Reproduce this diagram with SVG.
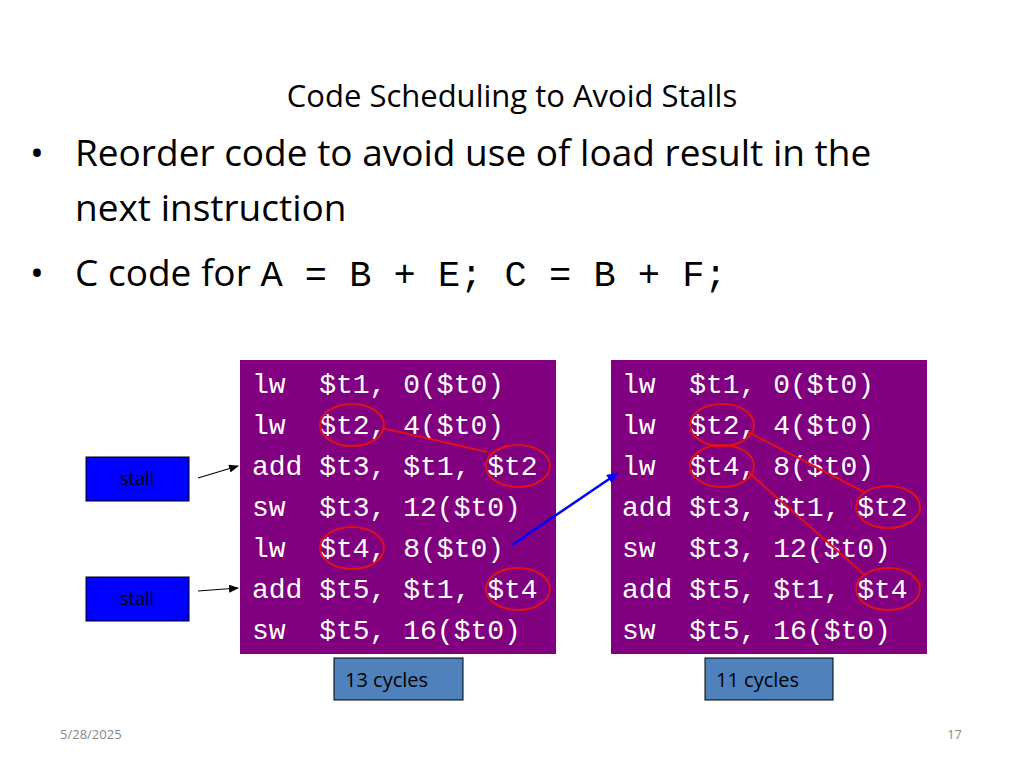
<svg xmlns="http://www.w3.org/2000/svg" width="1024" height="768" viewBox="0 0 1024 768">
<defs>
<style>
.t{font-family:"Open Sans","Liberation Sans",sans-serif;fill:#000}
.code{font-family:"Liberation Mono","DejaVu Sans Mono",monospace;font-size:28px;fill:#fff}
.box{fill:#800080}
.ov{fill:none;stroke:#e0101a;stroke-width:2}
.stall{fill:#0000ff;stroke:#000;stroke-width:1}
.cyc{fill:#4f81bd;stroke:#000;stroke-width:1}
</style>
<marker id="ah" markerWidth="10" markerHeight="8" refX="9" refY="4" orient="auto" markerUnits="userSpaceOnUse"><path d="M0,0 L10,4 L0,8 Z" fill="#000"/></marker>
<marker id="ahb" markerWidth="12" markerHeight="10" refX="11" refY="5" orient="auto" markerUnits="userSpaceOnUse"><path d="M0,0 L12,5 L0,10 Z" fill="#0000ff"/></marker>
</defs>
<rect width="1024" height="768" fill="#fff"/>
<text class="t" x="512" y="107" font-size="31" text-anchor="middle">Code Scheduling to Avoid Stalls</text>
<text class="t" x="30" y="166" font-size="37">•</text>
<text class="t" x="75" y="166" font-size="37">Reorder code to avoid use of load result in the</text>
<text class="t" x="75" y="221" font-size="37">next instruction</text>
<text class="t" x="30" y="286" font-size="37">•</text>
<text class="t" x="75" y="286" font-size="37">C code for <tspan font-family="Liberation Mono,monospace" xml:space="preserve">A = B + E; C = B + F;</tspan></text>

<g id="left">
<rect class="box" x="240" y="360" width="316" height="294"/>
<text class="code" xml:space="preserve"><tspan x="252" y="393">lw  $t1, 0($t0)</tspan><tspan x="252" y="434">lw  $t2, 4($t0)</tspan><tspan x="252" y="475">add $t3, $t1, $t2</tspan><tspan x="252" y="516">sw  $t3, 12($t0)</tspan><tspan x="252" y="557">lw  $t4, 8($t0)</tspan><tspan x="252" y="598">add $t5, $t1, $t4</tspan><tspan x="252" y="639">sw  $t5, 16($t0)</tspan></text>
</g>
<g id="right">
<rect class="box" x="611" y="360" width="316" height="294"/>
<text class="code" xml:space="preserve"><tspan x="622" y="393">lw  $t1, 0($t0)</tspan><tspan x="622" y="434">lw  $t2, 4($t0)</tspan><tspan x="622" y="475">lw  $t4, 8($t0)</tspan><tspan x="622" y="516">add $t3, $t1, $t2</tspan><tspan x="622" y="557">sw  $t3, 12($t0)</tspan><tspan x="622" y="598">add $t5, $t1, $t4</tspan><tspan x="622" y="639">sw  $t5, 16($t0)</tspan></text>
</g>
<g id="stall1"><rect class="stall" x="86" y="457" width="103" height="44"/><text class="t" x="137" y="485" font-size="18" text-anchor="middle">stall</text></g>
<g id="stall2"><rect class="stall" x="86" y="577" width="103" height="44"/><text class="t" x="137" y="605" font-size="18" text-anchor="middle">stall</text></g>
<g id="c13"><rect class="cyc" x="334" y="658" width="129" height="42"/><text class="t" x="345" y="687" font-size="20">13 cycles</text></g>
<g id="c11"><rect class="cyc" x="705" y="658" width="128" height="42"/><text class="t" x="716" y="687" font-size="20">11 cycles</text></g>
<g id="marks">
<ellipse class="ov" cx="352" cy="425" rx="32" ry="21"/>
<ellipse class="ov" cx="518" cy="466" rx="32" ry="21"/>
<ellipse class="ov" cx="352" cy="548" rx="32" ry="21"/>
<ellipse class="ov" cx="518" cy="589" rx="32" ry="21"/>
<ellipse class="ov" cx="722" cy="425" rx="32" ry="21"/>
<ellipse class="ov" cx="722" cy="466" rx="32" ry="21"/>
<ellipse class="ov" cx="888" cy="507" rx="32" ry="21"/>
<ellipse class="ov" cx="888" cy="589" rx="32" ry="21"/>
</g>
<g id="connectors">
<line x1="382" y1="428" x2="487" y2="452" stroke="#e0101a" stroke-width="2"/>
<line x1="748" y1="432" x2="866" y2="493" stroke="#e0101a" stroke-width="2"/>
<line x1="748" y1="472" x2="866" y2="576" stroke="#e0101a" stroke-width="2"/>
<line x1="198" y1="478" x2="238" y2="466" stroke="#000" stroke-width="1.2" marker-end="url(#ah)"/>
<line x1="198" y1="591" x2="238" y2="588" stroke="#000" stroke-width="1.2" marker-end="url(#ah)"/>
<line x1="512" y1="545" x2="618" y2="473" stroke="#0000ff" stroke-width="2.5" marker-end="url(#ahb)"/>
</g>
<text class="t" x="60" y="739" font-size="13" fill="#888" style="fill:#888">5/28/2025</text>
<text class="t" x="962" y="739" font-size="13" text-anchor="end" style="fill:#888">17</text>
</svg>
